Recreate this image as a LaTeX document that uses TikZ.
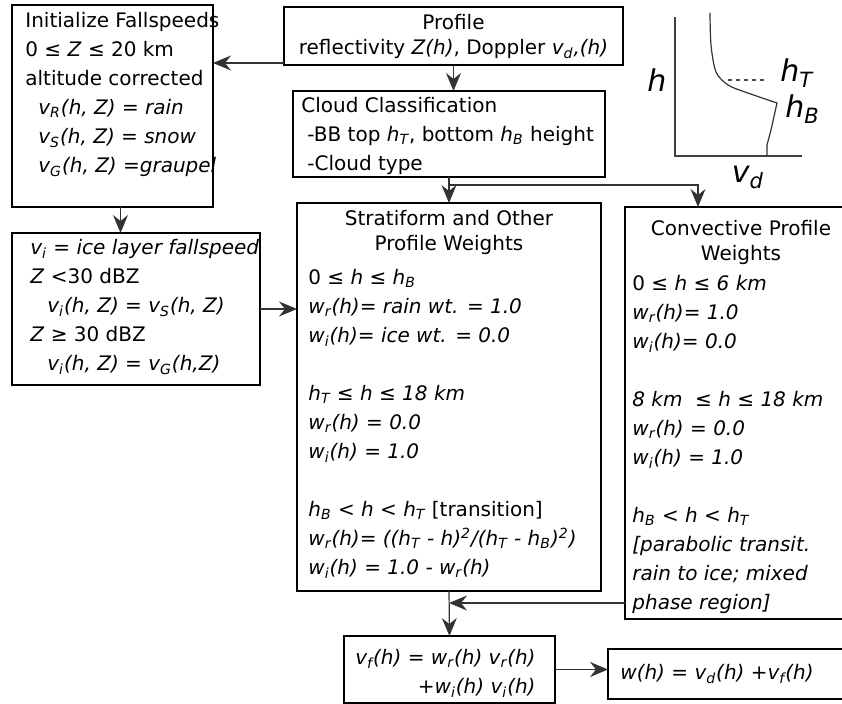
\documentclass[tikz,border=0pt]{standalone}
\usepackage{fontspec}
\setmainfont{DejaVu Sans}
\usepackage{tikz}
\usetikzlibrary{arrows.meta}
\newcommand{\idx}[1]{\textsubscript{#1}}

\begin{document}
\begin{tikzpicture}[
    x=0.5pt, y=-0.5pt,
    every node/.style={font=\fontsize{10}{14.5}\selectfont},
    box/.style={draw, line width=1.4pt, inner sep=0pt, outer sep=0pt, anchor=north west},
    sz/.style 2 args={minimum width=#1*0.5pt, minimum height=#2*0.5pt},
    txt/.style={inner sep=0pt, anchor=north west, align=left},
    ttl/.style={inner sep=0pt, anchor=north, align=center, font=\fontsize{10}{12.5}\selectfont},
    arr/.style={-{Stealth[length=9pt, width=7.5pt, inset=3pt]}, line width=0.6pt, black!80},
    lbl/.style={inner sep=0pt, font=\fontsize{15}{17}\selectfont\itshape}
  ]
    \useasboundingbox (0,0) rectangle (842,704);

    % boxes
    \node[box, sz={201}{202}] (init) at (12,5) {};
    \node[box, sz={339}{58}] (profile) at (284,7) {};
    \node[box, sz={312}{86}] (cloud) at (293,91) {};
    \node[box, sz={248}{152}] (ice) at (12,233) {};
    \node[box, sz={304}{388}] (strat) at (297,203) {};
    \node[box, sz={225}{412}] (conv) at (625,207) {};
    \node[box, sz={211}{67}] (vf) at (344,636) {};
    \node[box, sz={242}{50}] (wh) at (608,649) {};

    % texts
    \node[txt] (inittxt) at (25,12) {Initialize Fallspeeds\\
      0 ≤ \textit{Z} ≤ 20 km\\
      altitude corrected\\
      \hspace*{6.5pt}\textit{v\idx{R}(h, Z) = rain}\\
      \hspace*{6.5pt}\textit{v\idx{S}(h, Z) = snow}\\
      \hspace*{6.5pt}\textit{v\idx{G}(h, Z) =graupel}};
    \node[ttl, font=\fontsize{10}{12.5}\selectfont] (proftxt) at (453.5,14) {Profile\\
      reflectivity \textit{Z(h)}, Doppler \textit{v\idx{d},(h)}};
    \node[txt] (cloudtxt) at (301,97) {Cloud Classification\\
      \hspace*{3pt}-BB top \textit{h\idx{T}}, bottom \textit{h\idx{B}} height\\
      \hspace*{3pt}-Cloud type};
    \node[txt] (icetxt) at (30,239) {\textit{v\idx{i} = ice layer fallspeed}\\
      \textit{Z} <30 dBZ\\
      \hspace*{8.5pt}\textit{v\idx{i}(h, Z) = v\idx{S}(h, Z)}\\
      \textit{Z} ≥ 30 dBZ\\
      \hspace*{8.5pt}\textit{v\idx{i}(h, Z) = v\idx{G}(h,Z)}};
    \node[ttl] (strattl) at (449,210) {Stratiform and Other\\Profile Weights};
    \node[txt] (strattxt) at (308,269) {0 ≤ \textit{h ≤ h\idx{B}}\\
      \textit{w\idx{r}(h)= rain wt. = 1.0}\\
      \textit{w\idx{i}(h)= ice wt. = 0.0}\\[14.5pt]
      \textit{h\idx{T} ≤ h ≤ 18 km}\\
      \textit{w\idx{r}(h) = 0.0}\\
      \textit{w\idx{i}(h) = 1.0}\\[14.5pt]
      \textit{h\idx{B} < h < h\idx{T}} [transition]\\
      \textit{w\idx{r}(h)= ((h\idx{T} - h)\textsuperscript{2}/(h\idx{T} - h\idx{B})\textsuperscript{2})}\\
      \textit{w\idx{i}(h) = 1.0 - w\idx{r}(h)}};
    \node[ttl] (convttl) at (741,220) {Convective Profile\\Weights};
    \node[txt] (convtxt) at (632,275) {0 ≤ \textit{h ≤ 6 km}\\
      \textit{w\idx{r}(h)= 1.0}\\
      \textit{w\idx{i}(h)= 0.0}\\[14.5pt]
      \textit{8 km\ \ ≤ h ≤ 18 km}\\
      \textit{w\idx{r}(h) = 0.0}\\
      \textit{w\idx{i}(h) = 1.0}\\[14.5pt]
      \textit{h\idx{B} < h < h\idx{T}}\\
      \textit{[parabolic transit.}\\
      \textit{rain to ice; mixed}\\
      \textit{phase region]}};
    \node[txt, align=right] (vftxt) at (355,649) {\textit{v\idx{f}(h) = w\idx{r}(h) v\idx{r}(h)}\\
      \textit{+w\idx{i}(h) v\idx{i}(h)}};
    \node[txt] (whtxt) at (620,664) {\textit{w(h) = v\idx{d}(h) +v\idx{f}(h)}};

    % connectors
    \draw[arr] ([yshift=1pt]profile.south west) -- ([yshift=1pt]profile.south west -| init.east);
    \draw[arr] (profile.south) -- (profile.south |- cloud.north);
    \draw[arr] ([xshift=4pt]init.south) -- ([xshift=4pt]init.south |- ice.north);
    \draw[arr] (ice.east) -- (ice.east -| strat.west);
    \coordinate (split) at ([yshift=-4pt]cloud.south);
    \draw[arr] (cloud.south) -- (strat.north);
    \draw[arr] (split) -| ([xshift=36.5pt]conv.north west);
    \coordinate (merge) at ([yshift=8pt]conv.south west);
    \draw[arr] (merge) -- (merge -| strat.south);
    \draw[arr] (strat.south) -- (vf.north);
    \draw[arr] (vf.east) -- (vf.east -| wh.west);

    % inset v_d(h) sketch
    \draw[line width=0.7pt, black!75] (675,17) -- (675,156) -- (802,156);
    \draw[line width=0.6pt, black!80] plot[smooth] coordinates {(710,13) (711,45) (716,72) (728,85) (745,92) (777,103)}
      -- (771,130) -- (767,145) -- (767,156);
    \draw[line width=0.6pt, black!70, dash pattern=on 2pt off 2pt] (728,80) -- (766,80);
    \node[lbl] (hlbl) at (657,80) {h};
    \node[lbl, anchor=west] (htlbl) at (780,73) {h\idx{T}};
    \node[lbl, anchor=west] (hblbl) at (785,109) {h\idx{B}};
    \node[lbl] (vdlbl) at (748,177) {v\idx{d}};
\end{tikzpicture}
\end{document}
